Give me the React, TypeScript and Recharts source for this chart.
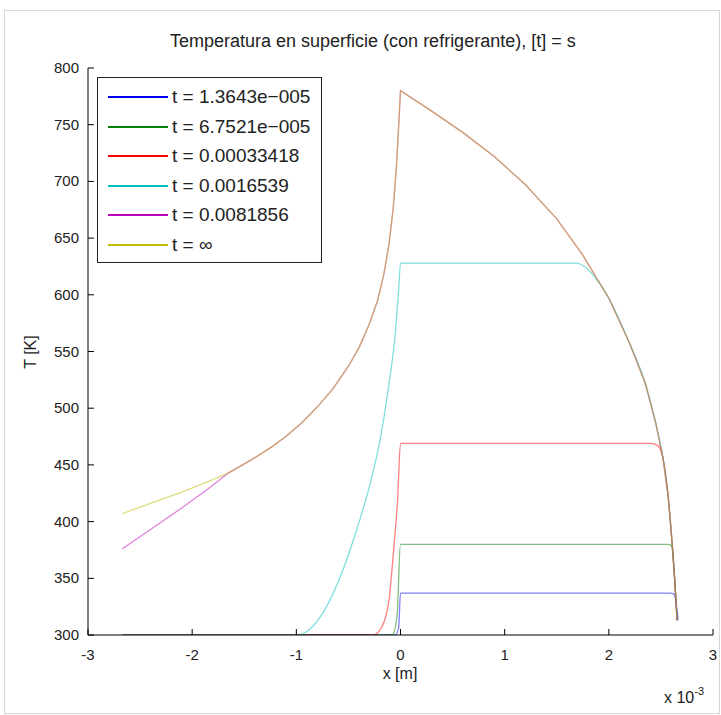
import React from 'react';
import { LineChart, Line, XAxis, YAxis } from 'recharts';

// x in units of 1e-3 m, T in K
const xBlue = [-2.67, -0.05, -0.018, 0, 2.59, 2.625, 2.645, 2.665];
const tBlue = [300, 300, 306, 337, 337, 336, 329, 313];

const xGreen = [-2.67, -0.08, -0.034, 0, 2.57, 2.6, 2.615, 2.635, 2.655];
const tGreen = [300, 300, 316, 380, 380, 379, 372, 345, 313];

const xRed = [-2.67, -0.26, -0.18, -0.11, -0.066, -0.028, 0, 2.4, 2.47, 2.52, 2.57, 2.61, 2.635, 2.655];
const tRed = [300, 300, 307, 331, 375, 419, 469, 469, 467, 456, 422, 378, 345, 313];

const xCyan = [-2.67, -0.99, -0.77, -0.58, -0.42, -0.29, -0.19, -0.11, -0.05, -0.018, 0, 1.68, 1.78, 1.86, 1.92, 2.0, 2.2, 2.35, 2.45, 2.52, 2.57, 2.61, 2.635, 2.655];
const tCyan = [300, 300, 316, 351, 393, 434, 475, 522, 566, 604, 628, 628, 624, 616, 609, 597, 557, 522, 487, 456, 422, 378, 345, 313];

const xMagenta = [-2.67, -2.4, -2.1, -1.83, -1.65, -1.44, -1.25, -1.1, -0.95, -0.8, -0.65, -0.5, -0.4, -0.3, -0.22, -0.16, -0.11, -0.07, -0.04, -0.02, 0, 0.3, 0.6, 0.9, 1.2, 1.5, 1.75, 2.0, 2.2, 2.35, 2.45, 2.52, 2.57, 2.61, 2.635, 2.655];
const tMagenta = [376, 393, 412, 430, 443, 454, 465, 475, 487, 501, 517, 537, 553, 574, 595, 618, 645, 676, 712, 745, 780, 762, 743, 722, 697, 667, 635, 597, 557, 522, 487, 456, 422, 378, 345, 313];

const xInf = [-2.67, -2.4, -2.1, -1.83, -1.65, -1.44, -1.25, -1.1, -0.95, -0.8, -0.65, -0.5, -0.4, -0.3, -0.22, -0.16, -0.11, -0.07, -0.04, -0.02, 0, 0.3, 0.6, 0.9, 1.2, 1.5, 1.75, 2.0, 2.2, 2.35, 2.45, 2.52, 2.57, 2.61, 2.635, 2.655];
const tInf = [407, 416, 426, 436, 443, 454, 465, 475, 487, 501, 517, 537, 553, 574, 595, 618, 645, 676, 712, 745, 780, 762, 743, 722, 697, 667, 635, 597, 557, 522, 487, 456, 422, 378, 345, 313];

const seriesNames = ['t = 1.3643e\u2212005', 't = 6.7521e\u2212005', 't = 0.00033418', 't = 0.0016539', 't = 0.0081856', 't = \u221E'];
const seriesColors = ['#0000ff', '#008000', '#ff0000', '#00bfbf', '#bf00bf', '#bfbf00'];
const seriesCurve = ['monotone', 'monotone', 'monotone', 'monotone', 'linear', 'linear'];
const seriesX = [xBlue, xGreen, xRed, xCyan, xMagenta, xInf];
const seriesT = [tBlue, tGreen, tRed, tCyan, tMagenta, tInf];

const X_TICKS = [-3, -2, -1, 0, 1, 2, 3];
const Y_TICKS = [300, 350, 400, 450, 500, 550, 600, 650, 700, 750, 800];

const TITLE = 'Temperatura en superficie (con refrigerante), [t] = s';
const X_LABEL = 'x [m]';
const Y_LABEL = 'T [K]';

const FONT = '"Liberation Sans", Arial, Helvetica, sans-serif';

const toRows = (xs: number[], ts: number[]) => xs.map((x, i) => ({ x, T: ts[i] }));

const XTick = (props: any) => {
  const { x, y, payload } = props;
  return (
    <g>
      <line x1={x} y1={y} x2={x} y2={y - 6} stroke="#000" strokeWidth={1} />
      <text x={x} y={y + 25} textAnchor="middle" fontSize={15} fontFamily={FONT} fill="#222">
        {payload.value}
      </text>
    </g>
  );
};

const YTick = (props: any) => {
  const { x, y, payload } = props;
  return (
    <g>
      <line x1={x} y1={y} x2={x + 6} y2={y} stroke="#000" strokeWidth={1} />
      <text x={x - 9} y={y + 5} textAnchor="end" fontSize={15} fontFamily={FONT} fill="#222">
        {payload.value}
      </text>
    </g>
  );
};

export default function App() {
  return (
    <div style={{ position: 'absolute', left: 0, top: 0, width: 721, height: 715, background: '#fff', fontFamily: FONT }}>
      <div style={{ position: 'absolute', left: 4, top: 10, width: 716, height: 704, border: '1px solid #d8d8d8', boxSizing: 'border-box' }} />
      <div style={{ position: 'absolute', left: 170, top: 31, fontSize: 18, color: '#222', whiteSpace: 'nowrap' }}>
        {TITLE}
      </div>
      <LineChart
        width={721}
        height={715}
        margin={{ top: 68, right: 8, bottom: 50, left: 38 }}
        style={{ position: 'absolute', left: 0, top: 0 }}
      >
        <XAxis
          dataKey="x"
          type="number"
          domain={[-3, 3]}
          ticks={X_TICKS}
          allowDataOverflow
          height={30}
          tickSize={0}
          tickMargin={0}
          tickLine={false}
          axisLine={{ stroke: '#000', strokeWidth: 1 }}
          tick={<XTick />}
          interval={0}
        />
        <YAxis
          dataKey="T"
          type="number"
          domain={[300, 800]}
          ticks={Y_TICKS}
          allowDataOverflow
          width={50}
          tickSize={0}
          tickMargin={0}
          tickLine={false}
          axisLine={{ stroke: '#000', strokeWidth: 1 }}
          tick={<YTick />}
          interval={0}
        />
        {seriesNames.map((name, i) => (
          <Line
            key={name}
            name={name}
            data={toRows(seriesX[i], seriesT[i])}
            dataKey="T"
            type={seriesCurve[i] as any}
            stroke={seriesColors[i]}
            strokeOpacity={0.5}
            strokeWidth={1.3}
            dot={false}
            activeDot={false}
            isAnimationActive={false}
          />
        ))}
      </LineChart>
      <div style={{ position: 'absolute', left: 0, top: 352, width: 0, height: 0 }}>
        <div style={{ position: 'absolute', left: 31, top: 0, transform: 'translate(-50%, -50%) rotate(-90deg)', fontSize: 16, color: '#222', whiteSpace: 'nowrap' }}>
          {Y_LABEL}
        </div>
      </div>
      <div style={{ position: 'absolute', left: 350, width: 100, top: 665, textAlign: 'center', fontSize: 16, color: '#222' }}>
        {X_LABEL}
      </div>
      <div style={{ position: 'absolute', left: 664, top: 687, fontSize: 16, color: '#222', whiteSpace: 'nowrap' }}>
        x 10<sup style={{ fontSize: 11, position: 'relative', top: -2 }}>-3</sup>
      </div>
      <div style={{ position: 'absolute', left: 97, top: 77, width: 225, height: 186, border: '1.5px solid #222', background: '#fff', boxSizing: 'border-box' }}>
        {seriesNames.map((name, i) => (
          <div key={name} style={{ position: 'absolute', left: 10, top: 8 + i * 29.5, height: 22, display: 'flex', alignItems: 'center' }}>
            <div style={{ width: 60, height: 0, borderTop: `2px solid ${seriesColors[i]}` }} />
            <span style={{ marginLeft: 4, fontSize: 19, color: '#222', whiteSpace: 'nowrap' }}>{name}</span>
          </div>
        ))}
      </div>
    </div>
  );
}
